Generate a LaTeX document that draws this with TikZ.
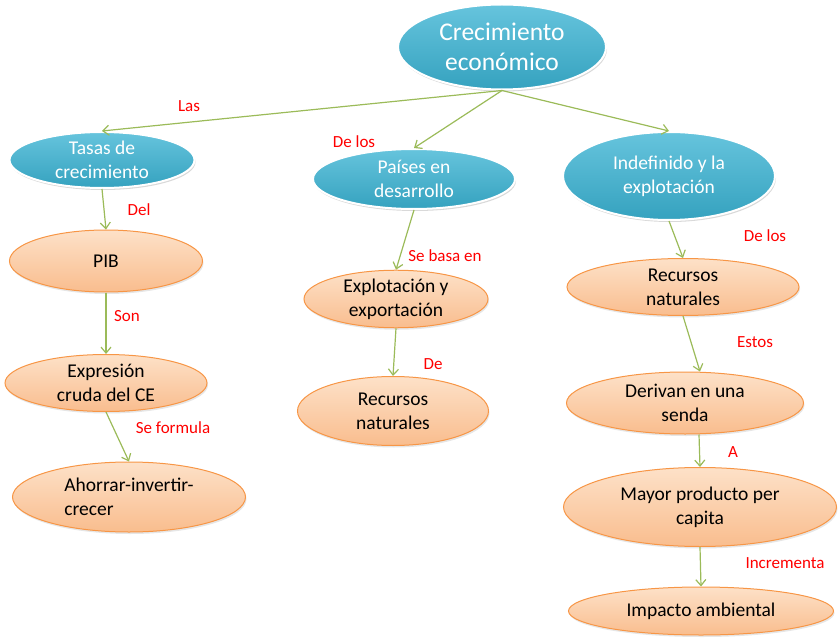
\documentclass[tikz,border=0pt]{standalone}
\usepackage{fontspec}
\setmainfont{Carlito}
\usetikzlibrary{arrows.meta,shapes.geometric,shadows}
\definecolor{cebluetop}{HTML}{66C4DD}
\definecolor{ceblue}{HTML}{35A2BF}
\definecolor{ceorgtop}{HTML}{FDE1C8}
\definecolor{ceorg}{HTML}{F9BD8E}
\definecolor{ceorgline}{HTML}{F79646}
\definecolor{cegreen}{HTML}{9BBB59}
\tikzset{
  ndblue/.style = {ellipse, draw=white, line width=2pt, top color=cebluetop,
                   bottom color=ceblue, text=white, align=center, inner sep=0pt,
                   font=\fontsize{19.5}{24}\selectfont,
                   drop shadow={opacity=0.3, shadow xshift=1pt, shadow yshift=-2pt}},
  ndtop/.style  = {ndblue, font=\fontsize{25.5}{30}\selectfont},
  ndorg/.style  = {ellipse, draw=ceorgline, line width=1pt, top color=ceorgtop,
                   bottom color=ceorg, text=black, align=center, inner sep=0pt,
                   font=\fontsize{19.5}{24}\selectfont,
                   drop shadow={opacity=0.2, shadow xshift=1pt, shadow yshift=-2pt}},
  arr/.style    = {draw=cegreen, line width=1.2pt,
                   -{Straight Barb[length=6pt,width=10pt]}},
  lbl/.style    = {text=red, font=\fontsize{17}{20}\selectfont},
}

\begin{document}
\begin{tikzpicture}[x=1pt,y=-1pt]
  \useasboundingbox (0,0) rectangle (840,644);
  % top concept
  \node[ndtop, minimum width=208pt, minimum height=85pt] (ce) at (502,47)
       {Crecimiento\\econ\'omico};
  % second row
  \node[ndblue, minimum width=185pt, minimum height=56pt] (tasas) at (102,160)
       {Tasas de\\crecimiento};
  \node[ndblue, minimum width=202pt, minimum height=60pt] (paises) at (414,179)
       {Pa\'ises en\\desarrollo};
  \node[ndblue, minimum width=212pt, minimum height=88pt] (indef) at (669,176)
       {Indefinido y la\\explotaci\'on};
  % left branch
  \node[ndorg, minimum width=193pt, minimum height=62pt] (pib) at (106,261) {PIB};
  \node[ndorg, minimum width=202pt, minimum height=57pt] (expr) at (106,383)
       {Expresi\'on\\cruda del CE};
  \node[ndorg, minimum width=233pt, minimum height=70pt, align=left] (ahorro)
       at (129,497) {Ahorrar-invertir-\\crecer};
  % middle branch
  \node[ndorg, minimum width=184pt, minimum height=55pt] (explo) at (396,299)
       {Explotaci\'on y\\exportaci\'on};
  \node[ndorg, minimum width=191pt, minimum height=69pt] (recm) at (393,411)
       {Recursos\\naturales};
  % right branch
  \node[ndorg, minimum width=232pt, minimum height=57pt] (recr) at (683,287)
       {Recursos\\naturales};
  \node[ndorg, minimum width=237pt, minimum height=62pt] (senda) at (685,403)
       {Derivan en una\\senda};
  \node[ndorg, minimum width=273pt, minimum height=79pt] (mayor) at (700,507)
       {Mayor producto per\\capita};
  \node[ndorg, minimum width=265pt, minimum height=48pt] (impacto) at (701,611)
       {Impacto ambiental};
  % connectors
  \draw[arr] (ce.south) -- (tasas.north);
  \draw[arr] (ce.south) -- (paises.north);
  \draw[arr] (ce.south) -- (indef.north);
  \draw[arr] (tasas.south) -- (pib.north);
  \draw[arr] (pib.south) -- (expr.north);
  \draw[arr] (expr.south) -- (ahorro.north);
  \draw[arr] (paises.south) -- (explo.north);
  \draw[arr] (explo.south) -- (recm.north);
  \draw[arr] (indef.south) -- (recr.north);
  \draw[arr] (recr.south) -- ([xshift=15pt]senda.north);
  \draw[arr] ([xshift=14pt]senda.south) -- (mayor.north);
  \draw[arr] (mayor.south) -- (impacto.north);
  % link words
  \node[lbl] (wlas) at (189,106) {Las};
  \node[lbl] (wdelos) at (354,142) {De los};
  \node[lbl] (wdel) at (139,210) {Del};
  \node[lbl] (wson) at (127,316) {Son};
  \node[lbl] (wform) at (173,428) {Se formula};
  \node[lbl] (wbasa) at (445,256) {Se basa en};
  \node[lbl] (wde) at (433,364) {De};
  \node[lbl] (wdelos2) at (765,236) {De los};
  \node[lbl] (westos) at (755,342) {Estos};
  \node[lbl] (wa) at (733,452) {A};
  \node[lbl] (wincr) at (785,563) {Incrementa};
\end{tikzpicture}
\end{document}
